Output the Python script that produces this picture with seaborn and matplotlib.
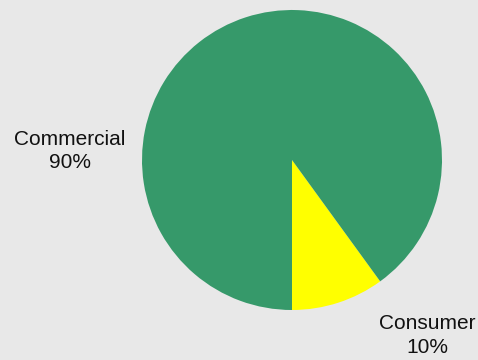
import matplotlib
matplotlib.use("Agg")
import matplotlib.pyplot as plt
import seaborn as sns

categories = ["Consumer", "Commercial"]
values = [10, 90]
colors = ["#ffff00", "#36996a"]
pct_labels = ["10%", "90%"]

sns.set_theme(style="white")
plt.rcParams['font.family'] = ['Liberation Sans', 'DejaVu Sans']

fig = plt.figure(figsize=(4.78, 3.6), dpi=100)
fig.patch.set_facecolor("#e8e8e8")
ax = fig.add_axes([142/478, 50/360, 300/478, 300/360])
ax.set_facecolor("#e8e8e8")
ax.pie(values, colors=colors, startangle=-90, counterclock=True, radius=1,
       wedgeprops=dict(linewidth=0))
ax.set_xlim(-1, 1)
ax.set_ylim(-1, 1)
ax.set_aspect("equal")
ax.axis("off")

label_pos = {"Commercial": (-1.48, 0.06), "Consumer": (0.90, -1.17)}
for cat, pl in zip(categories, pct_labels):
    x, y = label_pos[cat]
    ax.text(x, y, f"{cat}\n{pl}", ha="center", va="center", fontsize=15,
            color="#111111", clip_on=False, linespacing=1.3)

fig.savefig("out.png", dpi=100, facecolor=fig.get_facecolor())
